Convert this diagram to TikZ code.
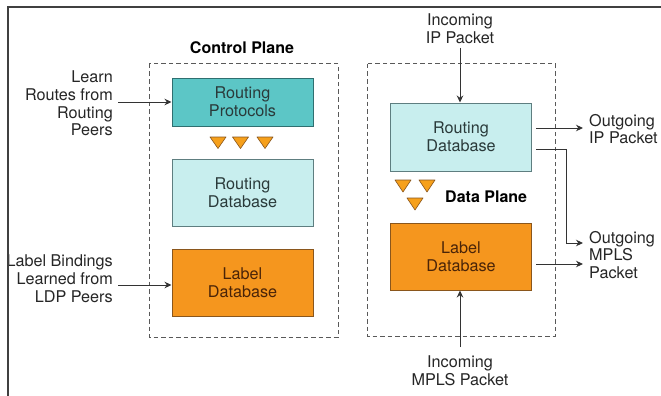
\documentclass[tikz,border=0pt]{standalone}
\usepackage{fontspec}
\setmainfont{TeX Gyre Heros}
\usetikzlibrary{arrows.meta}
\definecolor{teal1}{HTML}{5CC6C6}
\definecolor{tealb}{HTML}{2F6F70}
\definecolor{lcyan}{HTML}{C8EEEE}
\definecolor{lcyanb}{HTML}{5E7E80}
\definecolor{orng}{HTML}{F5961E}
\definecolor{orngb}{HTML}{8A561C}
\definecolor{otext}{HTML}{4A2408}
\definecolor{ctext}{HTML}{2A3A3A}
\definecolor{lin}{HTML}{333333}
\begin{document}
\begin{tikzpicture}[x=1pt,y=-1pt,
  txt/.style={font=\fontsize{16.2}{17.8}\selectfont, text=black!85, inner sep=0pt},
  box/.style={draw, line width=1pt, minimum width=141pt, align=center, inner sep=0pt,
    font=\fontsize{16.2}{17.8}\selectfont},
  proto/.style={box, fill=teal1, draw=tealb, text=ctext},
  rdb/.style={box, fill=lcyan, draw=lcyanb, text=ctext},
  ldb/.style={box, fill=orng, draw=orngb, text=otext},
  plane/.style={draw=black!65, dash pattern=on 4.5pt off 3pt, line width=1pt},
  arr/.style={draw=lin, line width=1pt, -{Stealth[length=7pt,width=6.5pt]}},
  tri/.style={fill=orng!90!yellow, draw=orngb, line width=0.6pt, line join=round},
  title/.style={font=\bfseries\fontsize{16}{17.8}\selectfont, inner sep=0pt}]
\useasboundingbox (0,0) rectangle (661,396);
\fill[white] (0,0) rectangle (661,396);

% left texts (under the frame)
\node[txt, align=right, anchor=east] (lr) at (113,103.5) {Learn\\Routes from\\Routing\\Peers};
\node[txt, align=right, anchor=east] (lb) at (113,278.5) {Label Bindings\\Learned from\\LDP Peers};

% frame
\draw[black!75, line width=1.5pt] (8,396) -- (8,7) -- (661,7);

% planes
\draw[plane] (149,64) rectangle (338,337);
\draw[plane] (367,64) rectangle (555,336);
\node[title] (cp) at (242,48) {Control Plane};
\node[title, anchor=west] (dp) at (445,197) {Data Plane};

% control plane boxes
\node[proto, minimum height=48pt] (rp) at (242.5,102) {Routing\\Protocols};
\node[rdb, minimum height=67pt] (rdbl) at (242.5,192.5) {Routing\\Database};
\node[ldb, minimum height=67pt] (ldbl) at (242.5,282.5) {Label\\Database};

% data plane boxes
\node[rdb, minimum height=68pt] (rdbr) at (461,137) {Routing\\Database};
\node[ldb, minimum height=67pt] (ldbr) at (461,256.5) {Label\\Database};

% triangles
\foreach \cx in {218,240.5,265}{
  \draw[tri] (\cx-8,137) -- (\cx+8,137) -- (\cx,148.5) -- cycle;}
\foreach \cx/\cy in {403/180,427/180,415/198}{
  \draw[tri] (\cx-8,\cy) -- (\cx+8,\cy) -- (\cx,\cy+12) -- cycle;}

\coordinate (lra) at (118,102);
\coordinate (lba) at (118,285);
\draw[arr] (lra) -- (rp.west |- lra);
\draw[arr] (lba) -- (ldbl.west |- lba);

% right texts
\node[txt, align=center] (iip) at (460,28.5) {Incoming\\IP Packet};
\node[txt, align=center] (imp) at (460,371) {Incoming\\MPLS Packet};
\node[txt, align=left, anchor=west] (oip) at (589,129) {Outgoing\\IP Packet};
\node[txt, align=left, anchor=west] (omp) at (589,255) {Outgoing\\MPLS\\Packet};

\coordinate (iipa) at (460,48);
\coordinate (impa) at (460,347);
\draw[arr] (iipa) -- (rdbr.north -| iipa);
\draw[arr] (impa) -- (ldbr.south -| impa);

\coordinate (o1) at (536,128);
\coordinate (o2) at (536,149);
\coordinate (o3) at (536,264);
\draw[arr] (o1) -- (583,128);
\draw[arr] (o2) -- (566,149) -- (566,243) -- (583,243);
\draw[arr] (o3) -- (583,264);
\end{tikzpicture}
\end{document}
